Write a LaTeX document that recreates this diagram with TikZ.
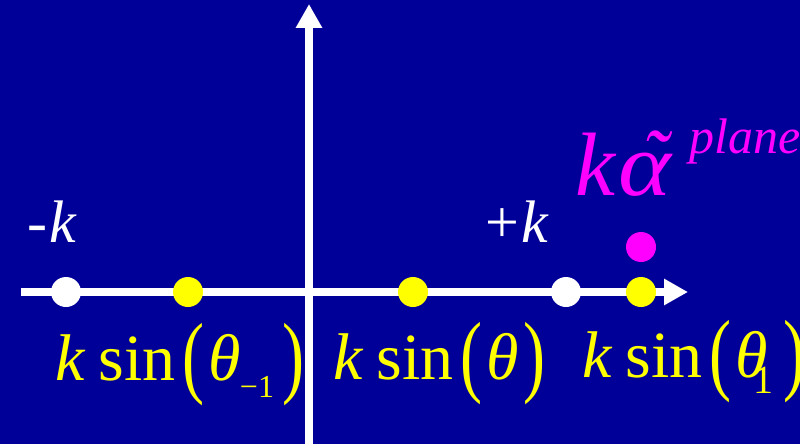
\documentclass[tikz,border=0pt]{standalone}
\usepackage{fontspec}
\setmainfont{Liberation Serif}
\usepackage{graphicx}
\usetikzlibrary{arrows.meta}
\definecolor{slideblue}{HTML}{000099}
\definecolor{rayyellow}{HTML}{FFFF00}
\definecolor{planemagenta}{HTML}{FF00FF}

\newcommand{\bigpar}[1]{\raisebox{-0.1em}{\scalebox{1}[1.38]{#1}}}
\newcommand{\ksin}[1]{% argument: the theta part
  \textit{k}\hspace{0.2em}sin\hspace{0.1em}\bigpar{(}\hspace{0.06em}#1\hspace{0.08em}\bigpar{)}}
\newcommand{\tildealpha}{\rlap{\hspace{0.26em}\raisebox{0.04em}{\scalebox{0.85}[1]{\char"02DC}}}\scalebox{1.12}[1]{α}}

\begin{document}
\begin{tikzpicture}[x=1pt, y=-1pt,
    axis/.style={white, line width=7.5pt, -{Triangle[length=24pt, width=25pt]}},
    dot/.style={circle, inner sep=0pt, minimum size=30pt},
    lab/.style={anchor=base west, inner sep=0pt, font=\fontsize{66}{70}\selectfont}]
  \fill[slideblue] (0,0) rectangle (800,444);
  \useasboundingbox (0,0) rectangle (800,444);
  \clip (0,0) rectangle (800,444);

  % axes
  \coordinate (xfrom) at (21,292);
  \coordinate (xto)   at (688,292);
  \coordinate (yfrom) at (309,446);
  \coordinate (yto)   at (309,4);
  \draw[axis] (xfrom) -- (xto);
  \draw[axis] (yfrom) -- (yto);

  % points on the axis
  \node[dot, fill=white]     (kneg)    at (66,292)  {};
  \node[dot, fill=rayyellow] (sinneg)  at (188,292) {};
  \node[dot, fill=rayyellow] (sinzero) at (413,292) {};
  \node[dot, fill=white]     (kpos)    at (566,292) {};
  \node[dot, fill=rayyellow] (sinpos)  at (641,292) {};
  \node[dot, fill=planemagenta] (alphadot) at (641,247) {};

  % white labels
  \node[lab, white, font=\fontsize{60}{62}\selectfont] (kneglab) at (27,242) {-\hspace{0.04em}\textit{k}};
  \node[lab, white, font=\fontsize{60}{62}\selectfont] (kposlab) at (485,242) {+\hspace{0.04em}\textit{k}};

  % yellow labels
  \node[lab, rayyellow] (sinneglab) at (55,380)
    {\ksin{\textit{θ}\kern-0.01em\raisebox{-17pt}{\fontsize{32}{32}\selectfont −1}\hspace{0.05em}}};
  \node[lab, rayyellow] (sinzerolab) at (333,379) {\ksin{\textit{θ}}};
  \node[lab, rayyellow] (sinposlab) at (582,377)
    {\ksin{\textit{θ}\kern-0.22em\raisebox{-16pt}{\fontsize{40}{40}\selectfont 1}\hspace{0.08em}}};

  % magenta label
  \node[lab, planemagenta, font=\fontsize{90}{92}\selectfont] (alphalab) at (575,195)
    {\textit{k\hspace{0.04em}\tildealpha}\hspace{0.2em}\raisebox{42pt}{\fontsize{50}{50}\selectfont\itshape plane}};
\end{tikzpicture}
\end{document}
